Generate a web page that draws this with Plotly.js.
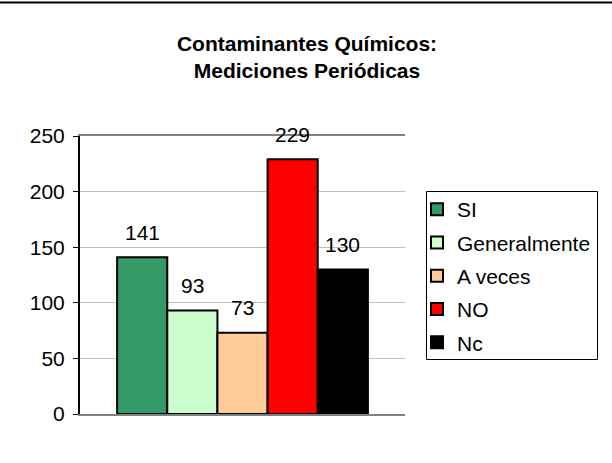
<!DOCTYPE html>
<html>
<head>
<meta charset="utf-8">
<script src="https://cdn.plot.ly/plotly-3.0.1.min.js"></script>
<style>html,body{margin:0;padding:0;background:#fff;}#chart{width:612px;height:463px;}</style>
</head>
<body>
<div id="chart"></div>
<script>
const categories = ["SI", "Generalmente", "A veces", "NO", "Nc"];
const values = [141, 93, 73, 229, 130];
const colors = ["#339966", "#CCFFCC", "#FFCC99", "#FF0000", "#000000"];
const yTicks = [0, 50, 100, 150, 200, 250];

const FONT = "Liberation Sans, Arial, sans-serif";
const traces = categories.map((name, i) => ({
  type: "bar",
  name: name,
  x: [i],
  y: [values[i]],
  width: [1],
  legendgroup: "g" + i,
  marker: {color: colors[i], line: {color: "#000000", width: 2}},
  hoverinfo: "name+y"
}));

const annotations = categories.map((name, i) => ({
  x: i, y: values[i], xref: "x", yref: "y",
  text: String(values[i]), showarrow: false,
  yanchor: "middle", yshift: 25,
  font: {family: FONT, size: 21, color: "#000"}
}));

const px = (p) => (p - 80) / 325;      // pixel x -> paper x
const py = (p) => (414 - p) / 278;     // pixel y -> paper y

const layout = {
  width: 612, height: 463,
  margin: {l: 80, r: 207, t: 136, b: 49},
  paper_bgcolor: "#fff", plot_bgcolor: "#fff",
  font: {family: FONT, size: 21, color: "#000"},
  title: {
    text: "<b>Contaminantes Químicos:<br>Mediciones Periódicas</b>",
    x: 307/612, xanchor: "center", xref: "container",
    y: 1 - 51/463, yref: "container", yanchor: "middle",
    font: {family: FONT, size: 21, color: "#000"}
  },
  barmode: "overlay",
  showlegend: true,
  xaxis: {
    range: [-1.24, 5.24],
    showticklabels: false, ticks: "", showgrid: false, zeroline: false,
    showline: true, linecolor: "#808080", linewidth: 2, mirror: true,
    fixedrange: true
  },
  yaxis: {
    range: [0, 250], tickvals: yTicks, ticktext: yTicks.map(String),
    ticks: "outside", ticklen: 5, tickcolor: "#000", tickwidth: 1,
    ticklabelstandoff: 4,
    showgrid: true, gridcolor: "#C0C0C0", gridwidth: 1,
    zeroline: false,
    showline: true, linecolor: "#000", linewidth: 2,
    tickfont: {size: 21},
    fixedrange: true
  },
  legend: {
    x: px(417), xanchor: "left", y: py(189), yanchor: "top",
    borderwidth: 0, bgcolor: "rgba(0,0,0,0)",
    traceorder: "grouped", tracegroupgap: 3,
    font: {size: 21}
  },
  annotations: annotations,
  shapes: [
    {type: "line", xref: "paper", yref: "paper", x0: px(0), x1: px(612), y0: py(2.5), y1: py(2.5),
     line: {color: "#000", width: 2}},
    {type: "rect", xref: "paper", yref: "paper", x0: px(426.5), x1: px(597.5), y0: py(191.5), y1: py(359.5),
     line: {color: "#000", width: 1}, fillcolor: "rgba(0,0,0,0)", layer: "below"}
  ]
};

Plotly.newPlot("chart", traces, layout, {displayModeBar: false, staticPlot: true});
</script>
</body>
</html>
